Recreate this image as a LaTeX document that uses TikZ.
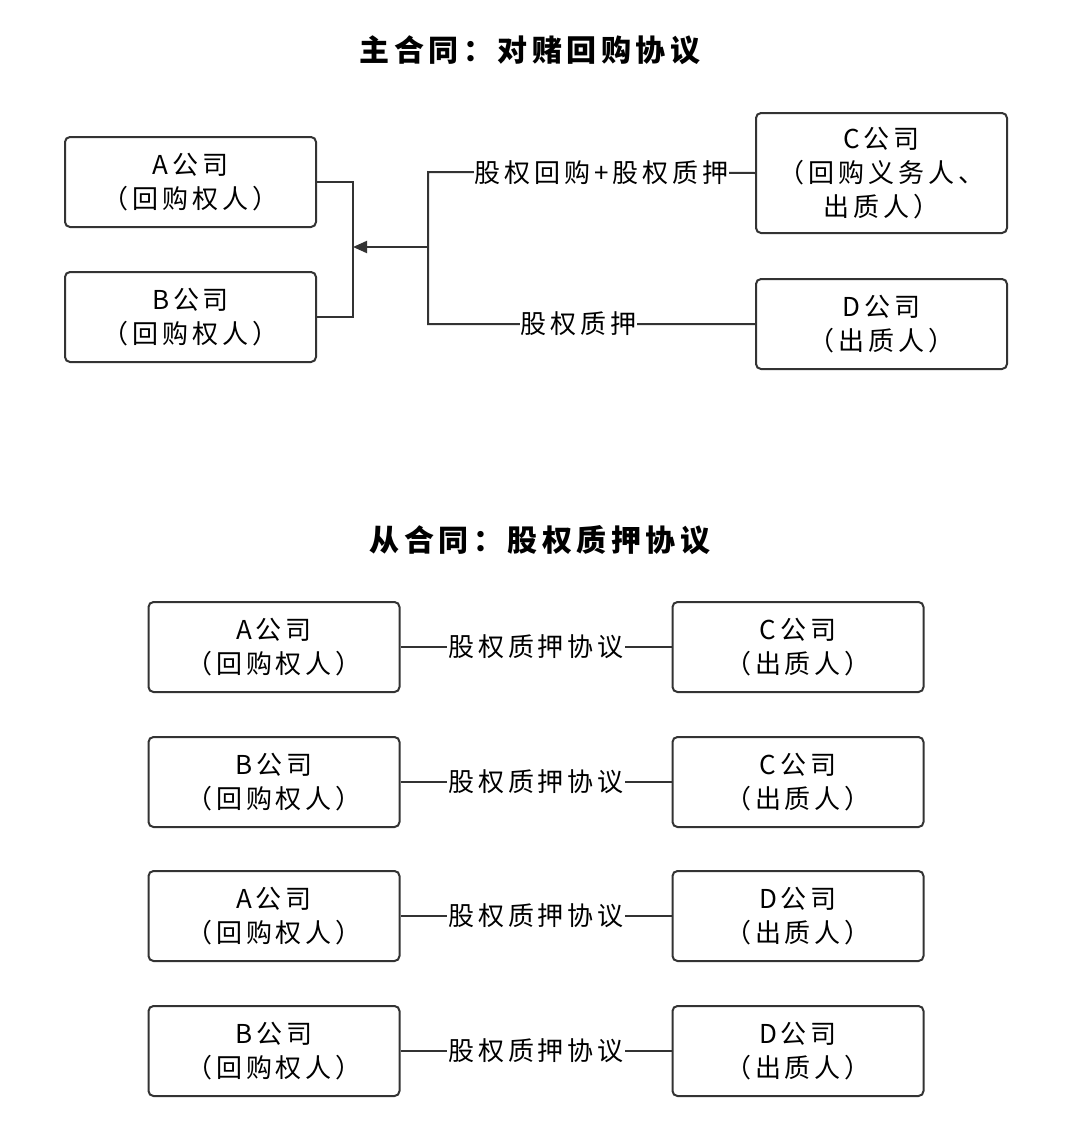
\documentclass[tikz,border=0pt]{standalone}
\usepackage{fontspec}
\setmainfont[LetterSpace=15]{Noto Sans CJK SC}
\usetikzlibrary{arrows.meta}
\begin{document}
\begin{tikzpicture}[x=1pt,y=-1pt,
  box/.style={draw=black!80,line width=2pt,rounded corners=5pt,minimum width=251pt,minimum height=90pt,align=center,font=\fontsize{26}{34}\selectfont,inner sep=0pt},
  lbl/.style={fill=white,inner sep=1pt,font=\fontsize{26}{30}\selectfont},
  ttl/.style={font=\bfseries\fontsize{30}{36}\selectfont},
  ln/.style={line width=2pt,draw=black!80}]
\useasboundingbox (0,0) rectangle (1080,1135);
\node[ttl] (t1) at (530,50) {主合同：对赌回购协议};
\node[box] (A) at (190.5,182) {A公司\\（回购权人）};
\node[box] (B) at (190.5,317) {B公司\\（回购权人）};
\node[box,minimum height=120pt] (C) at (881.5,173) {C公司\\（回购义务人、\\出质人）};
\node[box] (D) at (881.5,324) {D公司\\（出质人）};
\coordinate (j1) at (353,247);
\coordinate (j2) at (428,247);
\draw[ln] (A.east) -| (j1) |- (B.east);
\draw[ln,-{Triangle[length=14pt,width=12pt]}] (j2) -- (j1);
\draw[ln] (C.west) -- node[lbl,pos=0.47]{股权回购+股权质押} (428,172) -- (428,324) -- node[lbl,pos=0.46]{股权质押} (D.west);
\node[ttl] (t2) at (540,540) {从合同：股权质押协议};
\foreach \y/\lft/\rgt [count=\i] in {647/A/C,782/B/C,916/A/D,1051/B/D}{
  \node[box] (L\i) at (274,\y) {\lft{}公司\\（回购权人）};
  \node[box] (R\i) at (798,\y) {\rgt{}公司\\（出质人）};
  \draw[ln] (L\i.east) -- node[lbl]{股权质押协议} (R\i.west);
}
\end{tikzpicture}
\end{document}
